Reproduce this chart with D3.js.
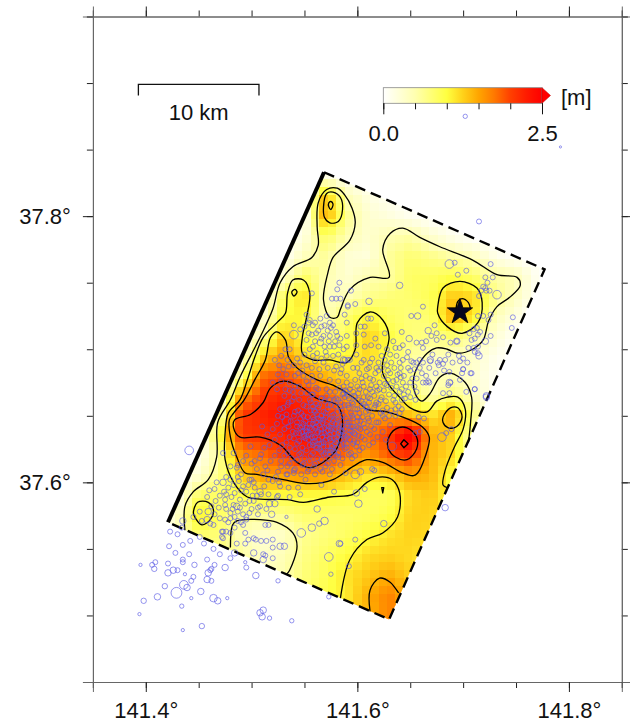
<!DOCTYPE html>
<html><head><meta charset="utf-8">
<style>html,body{margin:0;padding:0;background:#fff}svg{display:block}text{font-family:"Liberation Sans",Arial,sans-serif;fill:#111}</style>
<script src="https://cdnjs.cloudflare.com/ajax/libs/d3/7.8.5/d3.min.js"></script>
</head><body><svg id="c" width="630" height="722"></svg>
<script>
// All map data is in thousandths of a degree past 141E / 37N.
const lonTicksMajor=[141.4,141.6,141.8];
const lonTicksMinor=[141.35,141.4,141.45,141.5,141.55,141.6,141.65,141.7,141.75,141.8,141.85];
const latTicksMajor=[37.6,37.8];
const latTicksMinor=[37.45,37.5,37.55,37.6,37.65,37.7,37.75,37.8,37.85,37.9,37.95];
const colorbarTicks=[0,0.5,1,1.5,2,2.5];
const colorbarLabels=[0,2.5];
const faultCorners=[[421,570],[568.5,833],[777,760],[630,497]];
const epicentre=[697,728];
const scaleBar=[393,507,899];

const gridLon=[410,430,450,470,490,510,530,550,570,590,610,630,650,670,690,710,730,750,770,790];
const gridLat=[845,830,815,800,785,770,755,740,725,710,695,680,665,650,635,620,605,590,575,560,545,530,515,500,485];
const slip=[
[0,0,0,0,0,0,0,0,0,0,0,0,0,0,0,0,0,0,0,0],
[0,0,0,0,0,0,0,0,.2,.05,0,0,0,0,0,0,0,0,0,0],
[0,0,0,0,0,0,0,.03,1.4,.45,.2,.08,0,0,0,0,0,0,0,0],
[0,0,0,0,0,0,0,.05,1.5,.65,.3,.22,.1,0,0,0,0,0,0,0],
[0,0,0,0,0,0,0,.2,.85,.5,.3,.48,.55,.3,.12,0,0,0,0,0],
[0,0,0,0,0,0,.05,.42,.6,.28,.22,.6,.78,.68,.55,.42,.15,.02,0,0],
[0,0,0,0,0,0,.3,.82,.52,.28,.48,.55,.85,.85,.95,.8,.55,.45,.08,0],
[0,0,0,0,0,.05,.85,1.2,.42,.45,.65,.75,.8,.9,1.3,1.2,.7,.4,.05,0],
[0,0,0,0,0,.2,1.0,1.05,.45,.8,1.05,.85,.75,.8,1.5,1.15,.45,.2,0,0],
[0,0,0,0,.05,.5,1.3,.95,.7,.9,1.25,1.0,.75,.7,.8,.58,.28,.05,0,0],
[0,0,0,0,.2,1.2,1.55,1.2,1.05,1.05,1.2,.95,.6,.45,.42,.35,.12,0,0,0],
[0,0,0,0,.6,1.8,1.95,1.65,1.4,1.2,1.15,1.05,.7,.4,.48,.3,.08,0,0,0],
[0,0,0,.05,1.6,2.05,2.2,2.1,1.85,1.55,1.35,1.05,.85,.5,.75,.4,.05,0,0,0],
[0,0,0,.5,2.05,2.2,2.35,2.3,2.15,1.85,1.55,1.5,1.35,1.15,1.5,.72,.12,0,0,0],
[0,0,0,.95,2.05,2.1,2.2,2.4,2.3,1.95,1.75,2.05,2.7,1.45,1.25,.42,.08,0,0,0],
[0,0,.1,.6,1.65,1.8,2.0,2.15,2.05,1.75,1.55,1.9,2.1,1.4,1.2,.6,.2,0,0,0],
[0,0,.3,.7,1.25,1.55,1.55,1.6,1.55,1.35,1.15,1.25,1.5,1.4,.95,.8,.4,0,0,0],
[0,.1,.85,.85,.95,1.05,1.0,1.0,1.0,.95,.85,.85,1.2,1.3,.95,.9,.5,0,0,0],
[0,.35,1.15,.85,.65,.6,.65,.8,.8,.8,.85,.95,1.25,1.25,1.0,.9,0,0,0,0],
[0,.4,.8,.75,.45,.3,.35,.65,.75,.85,1.0,1.15,1.25,1.2,1.1,0,0,0,0,0],
[0,.4,.6,.7,.6,.35,.45,.7,.85,1.0,1.2,1.25,1.2,1.1,1.1,0,0,0,0,0],
[0,.4,.6,.7,.6,.4,.5,.75,.9,1.15,1.3,1.45,1.25,1.2,1.1,0,0,0,0,0],
[0,0,0,0,.4,.5,.6,.8,.95,1.1,1.45,1.7,1.4,1.3,1.1,0,0,0,0,0],
[0,0,0,0,.4,.5,.6,.8,1.0,1.2,1.4,1.7,1.4,1.3,1.1,0,0,0,0,0],
[0,0,0,0,.4,.5,.6,.8,1.0,1.2,1.4,1.7,1.4,1.3,1.1,0,0,0,0,0]];

const contourHalfMain=[[437,564],[437,582],[445,593],[459,602],[467,619],[468,645],[480,662],[489,679],[508,709],[520,730],[527,750],[539,762],[557,769],[563,778],[562,792],[563,810],[571,820],[581,821],[588,816],[595,806],[598,795],[593,782],[577,769],[572,757],[568,737],[574,724],[581,724],[584,730],[593,745],[612,754],[630,754],[624,775],[631,787],[643,791],[659,784],[678,777],[709,767],[732,756],[751,754],[754,748],[744,739],[732,732],[724,721],[719,707],[709,700],[695,697],[685,700],[675,701],[666,697],[657,687],[653,677],[655,666],[661,661],[669,667],[678,679],[688,682],[702,675],[708,664],[707,645],[705,630]];
const contourHalfPocket=[[480,551],[482,568],[486,571],[508,572],[524,570],[539,562],[543,552],[536,534],[533,531]];
const contourOneMain=[[584,513],[593,542],[609,557],[624,562],[638,574],[640,592],[633,602],[621,604],[609,600],[596,591],[574,589],[549,585],[534,587],[496,589],[483,600],[475,617],[475,637],[478,652],[489,662],[496,677],[503,694],[511,709],[524,720],[532,727],[534,742],[539,752],[549,752],[555,742],[552,724],[548,709],[548,697],[558,692],[574,692],[590,690],[598,700],[600,720],[612,728],[624,722],[630,709],[624,690],[624,682],[631,672],[640,664],[650,656],[666,653],[675,661],[685,664],[695,664],[702,655],[700,640],[692,627],[683,609],[681,598],[685,596]];
const contourOneLoops=[
[[568,807],[571,817],[577,818],[584,814],[586,805],[582,796],[574,795],[569,799]],
[[676,732],[681,746],[697,751],[713,746],[718,735],[714,720],[699,712],[685,717],[676,727]],
[[445,577],[449,585],[459,585],[464,579],[461,572],[453,568],[447,573]]];
const contourOneHalfMain=[[518,709],[524,713],[532,707],[535,694],[543,686],[562,677],[577,673],[596,664],[609,655],[628,653],[643,649],[661,642],[668,634],[664,619],[657,607],[653,605],[643,607],[624,615],[609,617],[596,612],[577,602],[555,599],[530,602],[505,606],[494,607],[486,619],[480,634],[479,647],[483,652],[493,662],[503,677],[513,692]];
const contourOneHalfLoops=[
[[681,649],[688,656],[695,656],[699,649],[694,642],[686,641],[681,645]],
[[573,810],[575,811],[577,809],[575,805],[573,807]],
[[538,743],[541,745],[543,743],[540,740]]];
const contourOneHalfOpen=[[[612,503],[612,519],[621,528],[631,525],[639,517]],[[693,728],[695,736],[699,738],[705,735],[707,730]]];
const contourTwoLoops=[
[[484,647],[499,651],[511,660],[518,671],[530,676],[546,672],[562,663],[581,658],[586,645],[581,626],[571,617],[555,611],[543,615],[527,628],[508,634],[489,634],[483,641]],
[[629,632],[636,640],[647,641],[656,634],[656,625],[647,617],[636,619],[629,626]]];
const contourPeak=[[[641,629],[644,632],[648,629],[644,626]],[[623,596],[625,596],[624,592]]];

const quakes=[
[441,624,4],[423,563],[430,561],[435,553],[442,556],[422,552],[428,547],[441,546],[395,538,1.5],[406,538],[409,540],[408,535,2.5],[421,539],[435,542],[435,540],[446,538,2.5],[421,532,3],[426,534,3],[430,534],[437,531,1.5],[459,532,3],[461,534],[462,535],[458,542],[465,538],[475,536,3],[494,540,1.5],[495,536],[480,543],[458,527,3],[462,526],[443,526],[445,529],[418,522,2.5],[436,523,4],[439,521,3],[429,517,5],[411,514,3],[398,511,2.5],[452,518,3],[464,513,3.5],[468,511,3],[443,513,1.5],[477,513,1.5],[434,507,2],[394,501,1.5],[453,492,2.5],[435,489,1.5],[511,504,3],[508,502,3],[510,499,3],[517,498,2],[538,496,2],[525,526,2],[504,530,3],[573,514,2],[575,531,2],[573,544,4],[583,554,3],[547,562,4],[557,566,3.5],[569,571,3.5],[564,569,2.5],[562,580,3],[533,574,1.5],
[792,852,1],[702,875,2],
[480,562],[476,563],[472,563],[472,559],[492,568],[494,562],[502,558],[497,557],[504,557],[509,556],[514,556],[520,557],[520,551],[527,552,3],[531,552,3],[511,546],[513,545],[511,542,3],[502,547,3],[520,543],[516,568],[495,572],[486,554],[484,547,3],[494,554],[513,568],[464,550],[470,546],[455,554],[451,559],[435,571,3],[434,566],[445,574],[451,578],[458,572,3],[453,571],[461,569],[464,568],[473,563],[473,558],[476,580],[475,583],[475,587],[480,577],[483,583],[486,582,3],[489,581],[492,576],[495,574],[498,577],[494,584],[489,587],[481,589],[476,591],[469,581],[465,576],[470,573],[480,573],[484,574],[487,571],[475,572],[459,578,3],[458,589],[460,594],[465,595],[473,600,3],[478,596],[483,598],[488,601],[492,597],[498,602],[502,600],[495,593],[503,596],[508,593,3],[509,591],[516,591],[517,584,3],[522,584,3],[508,582],[514,580],[506,581],[519,576,3],[506,576],[498,586],[524,589],[536,589],[546,591],[527,597],[520,601],[516,602],[511,606],[500,602],[503,616],[495,620],[486,611],[483,622],[480,612],[487,613],[473,622],[474,593],[467,600],[490,606],[505,610],[513,612],[523,604],[535,596],[540,607],[551,602],[566,598],[578,593],[528,612],[518,616],[509,621],[499,627],[492,616],[487,604],[501,590],[512,597],[525,590],[534,606],[544,596],
[715,796],[687,764,4],[692,765],[703,759],[726,764],[695,756],[721,754],[728,754],[640,748,3],[732,741,4],[723,750],[719,747],[721,746],[717,744],[722,744],[715,740],[725,744],[611,736,3],[662,732],[657,725,3],[651,725],[747,724],[746,716],[726,726],[724,722],[719,725],[714,725],[713,716],[716,713],[710,715],[706,712],[711,708],[708,707],[714,711],[726,710],[721,706,3],[714,702],[711,698],[715,695,3],[705,701],[700,693],[704,690],[696,695],[694,706,3],[688,705],[681,709],[673,718],[675,712],[667,714,3],[670,710],[675,707],[665,706],[661,705],[656,705],[662,701],[649,708,3],[642,713],[634,706],[636,701],[640,701],[643,703],[648,698],[628,700],[623,695],[631,696],[637,695],[643,692],[651,691],[656,690],[648,686],[654,685],[661,682],[669,692,3],[677,688],[683,692],[697,691],[700,685],[707,682],[687,683],[659,692],[668,675],[687,675,3],[697,677],[711,670],[722,664,3],[687,667],[640,682],[637,677],[643,675],[631,682],[625,680],[628,673],[618,686],[612,690],[606,692],[599,696],[590,702],[593,692],[588,692],[596,686],[602,682],[609,685],[615,677],[621,670],[590,680],[598,677],[606,672],[612,670],[584,682],[593,670],[601,667],[587,672],[594,744],[588,726],[590,720],[598,734],[591,732],[607,717],[603,717],[610,723],[613,723],[626,712],[617,708],[606,711],[599,712],[599,703],[607,702],[613,703],[620,702],[640,690],
[583,750],[581,745],[576,738],[580,738],[584,738],[591,733],[557,742],[552,726],[555,722],[540,718],[540,711,4],[546,715],[550,717],[554,720],[565,723],[571,725],[574,720],[577,718],[580,713],[569,718],[566,717],[558,718],[561,712],[557,711],[552,707],[560,706],[568,710],[574,710],[573,706],[579,706],[583,703],[565,705,3],[555,700],[558,695],[574,702],[590,710],[591,692],[587,692,3],[571,695],[577,695],[560,691],[568,690],[580,687],[585,685],[557,686],[543,693],[536,700],[532,700],[528,695],[522,692],[535,687],[544,682],[549,680],[557,680],[565,680],[574,677],[582,676],[590,675],[541,680],[533,681],[525,681],[520,675],[528,676],[536,675],[545,672],[554,673],[561,671],[571,670],[579,668],[587,667],[591,665],[532,670],[524,670],[539,668],[547,667],[557,666],[566,663],[574,662],[580,663],
[680,634,4],[689,640],[684,637],[658,649],[663,648],[659,638],[655,637],[642,655],[636,655],[722,665,3],[711,670],[703,668],[708,682],[699,682],[686,673],[688,675],[681,667],[665,675],[662,675],[667,676],[669,691],[676,690],[681,689],[700,685],[650,675],[645,663],[642,670],[655,662],[634,662],[633,627,4],[710,701],[714,697],[694,706],
[683,581,3],[625,569,3],[601,584,3.5],[599,592,3],[598,557],[607,595],[598,606,4],[603,608,3],[589,607],[614,610],[616,609],[595,618],[598,620],[584,554],[592,537],
[536,669],[541,672],[552,667],[563,670],[574,668],[583,671],[589,669],
[531,665],[545,662],[558,666],[566,663],[571,665],[578,662],[586,666],[592,663],[597,665],
[538,661],[549,658],[555,662],[561,659],[569,661],[575,658],[582,662],[588,658],[595,660],[601,662],[606,659],
[527,655],[534,658],[544,654],[552,657],[559,654],[564,658],[572,655],[579,657],[585,654],[591,658],[598,655],[604,657],[611,654],[617,658],
[533,651],[541,653],[549,650],[556,654],[562,651],[568,653],[576,650],[581,653],[587,650],[594,652],[600,649],[608,653],[614,650],[622,652],
[529,649],[537,646],[546,648],[551,646],[558,649],[565,647],[570,649],[577,646],[583,648],[590,645],[596,648],[603,646],[610,648],[618,645],[626,648],
[533,646,4],[524,644],[535,642],[543,645],[548,642],[555,644],[561,642],[567,645],[573,642],[580,644],[586,642],[592,645],[599,642],[606,644],[613,642],[620,645],[631,643],
[531,640],[539,638],[546,641],[552,638],[557,640],[563,638],[569,641],[575,639],[582,637],[588,640],[595,638],[601,641],[609,638],[616,640],[624,638],
[527,636],[536,634],[542,637],[549,634],[554,636],[560,634],[566,637],[571,635],[578,633],[584,636],[590,634],[597,637],[604,634],[612,636],[619,634],
[522,632],[533,630],[540,633],[545,631],[551,633],[558,630],[563,632],[568,630],[574,633],[580,631],[587,629],[593,632],[600,630],[607,632],[615,630],[627,632],
[529,628],[536,626],[543,629],[548,626],[555,628],[561,626],[566,629],[572,627],[577,625],[584,628],[590,626],[596,629],[605,626],[611,628],
[526,624],[534,622],[541,625],[547,622],[552,624],[558,622],[564,625],[570,622],[575,624],[582,622],[588,625],[594,622],[602,624],
[531,620],[538,618],[545,621],[550,618],[556,620],[562,618],[568,621],[573,618],[580,620],[586,618],[592,621],
[528,616],[536,614],[543,617],[549,614],[555,616],[560,614],[566,617],[572,614],[578,616],[584,613],
[534,612],[541,610],[548,613],[554,610],[559,612],[565,610],[570,612],[576,610],
[525,608],[533,606],[540,609],[547,606],[553,608],[560,606],[567,608],[574,606],
[600,672],[610,664],[618,660],[624,654],[630,650],[612,678],[620,684],[628,688],[604,678],[596,668],[606,664],[614,668],[622,662],[630,666],[636,660],[640,668],[634,676],[626,674],[618,672],[642,662],[648,668],[654,672],
// second pass over the densest part of the swarm
[556,660],[558,657],[560,653],[563,656],[566,650],[568,647],[570,652],[572,658],[574,648],[576,644],[578,651],[579,640],[581,647],[583,643],[584,657],[585,639],[587,635],[589,648],[591,643],[593,639],[595,650],[596,642],[598,636],[600,646],[602,652],[603,640],[605,649],[607,641],[609,656],[611,646],[558,644],[560,641],[562,637],[564,643],[566,640],[567,634],[569,637],[571,643],[572,639],[574,636],[575,631],[576,641],[578,637],[579,629],[581,634],[582,641],[584,632],[586,638],[588,633],[590,629],[592,636],[594,642],[597,631],[599,627],[601,635],[548,638],[550,635],[552,641],[554,632],[556,636],[558,628],[560,631],[562,626],[564,629],[566,623],[568,627],[570,632],[572,624],[574,621],[576,627],[578,623],[580,626],[582,619],[540,650],[543,642],[545,637],[547,652],[549,644],[551,639],[553,649],[555,641],[557,634],[559,647],[561,645],[563,648],
[590,668],[594,673],[598,664],[602,670],[605,675],[608,668],[611,660],[613,673],[616,665],[619,669],[621,675],[623,664],[625,669],[627,661],[629,677],[632,671],[635,665],[637,672],[639,657],[641,679],[644,666],[646,672],[650,664],[652,678],[656,668],[584,660],[588,664],[592,656],[596,659],[600,655],[604,661],[608,657],[612,663],[616,656],[620,659],[624,650],[628,656],[632,654],[636,650],[640,652],
[600,686],[604,690],[608,680],[611,686],[614,693],[617,682],[620,690],[623,686],[626,692],[629,684],[632,690],[635,686],[638,681],[641,686],[644,680],[647,694],[650,684],[653,690],[656,678],[659,686],[662,690],[665,680],[668,686],[671,696],[674,682],[678,692],[682,684],[686,696],[690,690],
[560,720],[563,714],[566,708],[569,702],[572,714],[575,716],[578,702],[581,710],[584,708],[587,700],[570,698],[566,693],[562,697],[558,702],[554,712],[550,696],[546,690],[552,688],[548,684],[540,688],[534,692],[530,685],[526,688],[582,696],[586,689],[578,684],[572,686],[564,685],[558,676],[552,676],
[540,664],[535,660],[530,656],[525,650],[520,640],[515,636],[510,642],[517,628],[512,626],[522,620],[508,618],[500,614],[515,609],[526,600],[505,590],[497,598],[490,594],[484,592],[480,602],[476,604],[470,590],[466,586],[462,582],[478,570],[484,566],[490,570],[500,580],[502,586],[487,578],[482,580]
];

const W=630,H=722;
const x=d3.scaleLinear().domain([141.35,141.85]).range([92.9,621.8]);
const y=d3.scaleLinear().domain([37.95,37.45]).range([16.5,682]);
const X=v=>x(141+v/1000), Y=v=>y(37+v/1000);
const color=d3.scaleLinear()
  .domain([0,0.5,1,1.25,1.5,1.75,2,2.3,2.5])
  .range(["#ffffff","#ffffb0","#ffff40","#ffd21a","#ffa500","#ff7800","#ff4000","#ff1500","#ff0000"]);
const svg=d3.select("#c");
const defs=svg.append("defs");
defs.append("clipPath").attr("id","fp").append("polygon")
  .attr("points",faultCorners.map(d=>[X(d[0]),Y(d[1])].join(",")).join(" "));

// Sample the read grid on the map's display cells
function sample(lonv,latv){
  const fi=(lonv-gridLon[0])/(gridLon[1]-gridLon[0]);
  const fj=(gridLat[0]-latv)/(gridLat[0]-gridLat[1]);
  const i=Math.max(0,Math.min(gridLon.length-2,Math.floor(fi))),j=Math.max(0,Math.min(gridLat.length-2,Math.floor(fj)));
  const a=fi-i,b=fj-j;
  return (slip[j][i]*(1-a)+slip[j][i+1]*a)*(1-b)+(slip[j+1][i]*(1-a)+slip[j+1][i+1]*a)*b;
}
const cells=[];
for(const la of d3.range(840,488,-6))for(const lo of d3.range(412,790,8))cells.push([lo,la,sample(lo+4,la-3)]);
svg.append("g").attr("clip-path","url(#fp)").attr("shape-rendering","crispEdges")
  .selectAll("rect").data(cells).join("rect")
  .attr("x",d=>X(d[0])).attr("y",d=>Y(d[1]))
  .attr("width",d=>X(d[0]+8)-X(d[0])+.5).attr("height",d=>Y(d[1]-6)-Y(d[1])+.5)
  .attr("fill",d=>color(d[2]));

// Contours
const gC=svg.append("g").attr("fill","none").attr("stroke","#000").attr("stroke-width",1.3).attr("stroke-linejoin","round");
const lineOpen=d3.line().x(d=>X(d[0])).y(d=>Y(d[1])).curve(d3.curveCatmullRom.alpha(.5));
const lineClosed=d3.line().x(d=>X(d[0])).y(d=>Y(d[1])).curve(d3.curveCatmullRomClosed.alpha(.5));
const lineSharp=d3.line().x(d=>X(d[0])).y(d=>Y(d[1])).curve(d3.curveLinearClosed);
[contourHalfMain,contourHalfPocket,contourOneMain,...contourOneHalfOpen].forEach(c=>gC.append("path").attr("d",lineOpen(c)));
[...contourOneLoops,contourOneHalfMain,...contourOneHalfLoops,...contourTwoLoops].forEach(c=>gC.append("path").attr("d",lineClosed(c)));
contourPeak.forEach(c=>gC.append("path").attr("d",lineSharp(c)));

// Fault outline
const fl=d3.line().x(d=>X(d[0])).y(d=>Y(d[1]));
svg.append("path").attr("d",fl([faultCorners[0],faultCorners[1]])).attr("fill","none").attr("stroke","#000").attr("stroke-width",4);
svg.append("path").attr("d",fl([faultCorners[1],faultCorners[2],faultCorners[3],faultCorners[0]]))
  .attr("fill","none").attr("stroke","#000").attr("stroke-width",2.4).attr("stroke-dasharray","11 6");

// Epicentre
svg.append("path").attr("d",d3.symbol(d3.symbolStar,200)())
  .attr("transform",`translate(${X(epicentre[0])},${Y(epicentre[1])})`).attr("fill","#05051e").attr("stroke","#000").attr("stroke-width",.8);

// Aftershocks
const rScale=d3.scaleLinear().domain([1,5]).range([1.1,5.4]);
svg.append("g").attr("fill","none").attr("stroke","#5a5ae4").attr("stroke-width",.75).attr("stroke-opacity",.85)
  .selectAll("circle").data(quakes).join("circle")
  .attr("cx",d=>X(d[0])).attr("cy",d=>Y(d[1])).attr("r",d=>rScale(d[2]||2.3));

// Frame and ticks
function frame(axisFn,scale,minor,major,tf,labels){
  const g=svg.append("g").attr("transform",tf);
  g.call(axisFn(scale).tickValues(minor).tickSize(6).tickFormat(""));
  const h=svg.append("g").attr("transform",tf);
  h.call(axisFn(scale).tickValues(major).tickSize(10).tickPadding(labels?labels:3).tickFormat(labels?(d=>d3.format(".1f")(d)+"°"):""));
  [g,h].forEach(s=>{s.select(".domain").attr("stroke","#666").attr("stroke-width",1);s.selectAll("line").attr("stroke","#222").attr("stroke-width",1);
    s.selectAll("text").style("font-size","22px").attr("fill","#111");});
}
frame(d3.axisBottom,x,lonTicksMinor,lonTicksMajor,"translate(0,682)",10.4);
frame(d3.axisTop,x,lonTicksMinor,lonTicksMajor,"translate(0,16.5)");
frame(d3.axisLeft,y,latTicksMinor,latTicksMajor,"translate(92.9,0)",12);
frame(d3.axisRight,y,latTicksMinor,latTicksMajor,"translate(621.8,0)");

// Scale bar
const sb=svg.append("g");
sb.append("path").attr("d",`M${X(scaleBar[0])},${Y(scaleBar[2])+11}V${Y(scaleBar[2])}H${X(scaleBar[1])}v11`).attr("fill","none").attr("stroke","#111").attr("stroke-width",1.3);
sb.append("text").attr("x",(X(scaleBar[0])+X(scaleBar[1]))/2).attr("y",119.5).attr("text-anchor","middle").style("font-size","22px").text("10 km");

// Colour bar
const cb=d3.scaleLinear().domain([0,2.5]).range([383.3,542]);
const grad=defs.append("linearGradient").attr("id","cbg");
d3.range(0,2.5001,.125).forEach(v=>grad.append("stop").attr("offset",v/2.5).attr("stop-color",color(v)));
const cg=svg.append("g");
cg.append("rect").attr("x",cb(0)).attr("y",87.7).attr("width",cb(2.5)-cb(0)).attr("height",15.6).attr("fill","url(#cbg)").attr("stroke","#888").attr("stroke-width",.8);
cg.append("path").attr("d",`M${cb(2.5)},87.7L550.5,95.5L${cb(2.5)},103.3Z`).attr("fill",color(2.5)).attr("stroke","#b00").attr("stroke-width",.5);
const ca=cg.append("g").attr("transform","translate(0,103.3)");
ca.call(d3.axisBottom(cb).tickValues(colorbarTicks).tickSize(6).tickFormat(""));
const cb2=cg.append("g").attr("transform","translate(0,103.3)");
cb2.call(d3.axisBottom(cb).tickValues(colorbarLabels).tickSize(11).tickPadding(11).tickFormat(d3.format(".1f")));
[ca,cb2].forEach(s=>{s.select(".domain").remove();s.selectAll("line").attr("stroke","#111").attr("stroke-width",1);s.selectAll("text").style("font-size","22px").attr("fill","#111");});
cg.append("text").attr("x",561).attr("y",105).style("font-size","22px").text("[m]");
</script></body></html>
